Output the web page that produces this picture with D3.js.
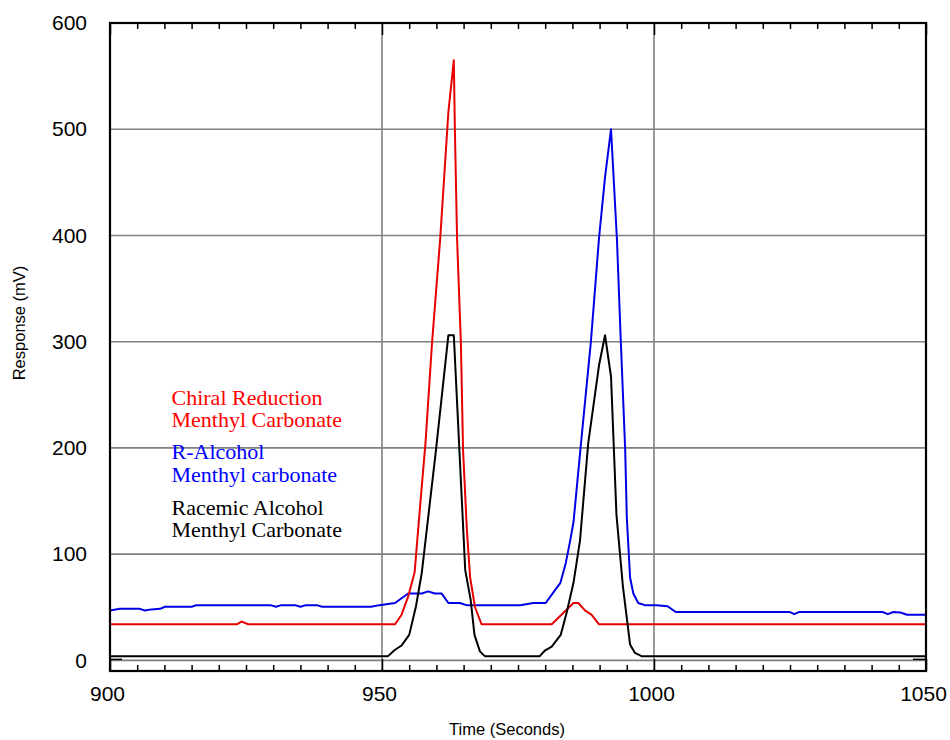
<!DOCTYPE html>
<html>
<head>
<meta charset="utf-8">
<script src="https://cdn.jsdelivr.net/npm/d3@7"></script>
<style>
  html, body { margin: 0; padding: 0; background: #fff; }
  svg { display: block; }
</style>
</head>
<body>
<svg id="chart" width="950" height="740"></svg>
<script>
// ---------- data (time in seconds, response in mV) ----------
const xMajorTicks = [900, 950, 1000, 1050];
const yMajorTicks = [0, 100, 200, 300, 400, 500, 600];

const chiralReduction = [
  [900,34],[923.3,34],[924.2,36.5],[925.4,34],[952.4,34],[953.6,43],[954.8,60],
  [956.0,83],[957.0,145],[958.0,205],[959.2,299],[960.7,397],[962.2,516],[963.2,565],
  [963.4,499],[963.8,397],[964.5,299],[964.9,198],[965.6,123],[966.2,78],[967.1,50],
  [968.3,34],[981.2,34],[985.2,54],[986.1,54],[987.3,47],[988.5,43],[989.9,34],[1050,34]
];

const rAlcohol = [
  [900,47],[901.8,48.5],[905.5,48.5],[906.4,47],[907.6,48],[909.2,48.5],[910.1,50.5],
  [915,50.5],[915.9,52],[929.5,52],[930.5,50.5],[931.5,52],[934,52],[935,50.5],[936,52],
  [938,52],[939,50.5],[948,50.5],[949.5,52],[952.4,54],[954.8,63],[957.3,63],[958.5,65],
  [959.7,63],[960.95,63],[962.2,54],[964.3,54],[965.5,52],[975.4,52],[977.8,54],[980.1,54],
  [981.5,64],[982.8,73],[983.8,92],[984.6,113],[985.2,130],[986.5,200],[988.4,300],
  [989.9,398],[991.0,455],[992.1,500],[993.2,395],[993.9,300],[994.7,199],[995.0,135],
  [995.6,78],[996.2,63],[997.1,54],[998.3,52],[1000.5,52],[1002.5,51],[1004,45.5],
  [1025,45.5],[1025.8,43.5],[1026.6,45.5],[1042,45.5],[1043,43.5],[1044,45.5],
  [1045.3,45],[1046.5,43],[1050,43]
];

const racemicAlcohol = [
  [900,4],[951.1,4],[952.4,10],[953.6,14],[955.0,24],[956.25,51],[957.3,82],[959.9,197],
  [962.2,306],[963.2,306],[965.3,85],[966.3,57],[967.0,24],[968.0,8.5],[968.9,4],
  [979.0,4],[980.0,9.5],[981.2,13],[982.85,24],[983.95,45],[985.2,73],[986.4,113],
  [987.9,204],[989.9,278],[991.0,306],[992.1,267],[993.1,137],[994.3,69],[995.6,15],
  [996.5,7],[997.7,4],[1050,4]
];

const legendLines = [
  {text: "Chiral Reduction", color: "#ff0000"},
  {text: "Menthyl Carbonate", color: "#ff0000"},
  {text: "R-Alcohol", color: "#0000ff"},
  {text: "Menthyl carbonate", color: "#0000ff"},
  {text: "Racemic Alcohol", color: "#000000"},
  {text: "Menthyl Carbonate", color: "#000000"}
];

// ---------- layout ----------
const L = 110, R = 926, T = 23, B = 671;
const svg = d3.select("#chart");
svg.append("rect").attr("width", 950).attr("height", 740).attr("fill", "#fff");

const x = d3.scaleLinear().domain([900, 1050]).range([L, R]);
const y = d3.scaleLinear().domain([-10, 600]).range([B, T]);

const sans = "'Liberation Sans', Arial, Helvetica, sans-serif";
const serif = "'Liberation Serif', 'Times New Roman', Times, serif";

// ---------- gridlines ----------
const grid = svg.append("g").attr("stroke", "#808080").attr("stroke-width", 1.6);
grid.selectAll("line.h").data(yMajorTicks.filter(d => d < 600)).enter().append("line")
  .attr("x1", L).attr("x2", R).attr("y1", d => y(d)).attr("y2", d => y(d));
grid.selectAll("line.v").data(xMajorTicks.filter(d => d > 900 && d < 1050)).enter().append("line")
  .attr("y1", T).attr("y2", B).attr("x1", d => x(d)).attr("x2", d => x(d));

// ---------- curves ----------
svg.append("clipPath").attr("id", "clip").append("rect")
  .attr("x", L).attr("y", T).attr("width", R - L).attr("height", B - T);
const line = d3.line().x(d => x(d[0])).y(d => y(d[1]));
const curves = svg.append("g").attr("clip-path", "url(#clip)")
  .attr("fill", "none").attr("stroke-width", 2).attr("stroke-linejoin", "round");
curves.append("path").datum(rAlcohol).attr("d", line).attr("stroke", "#0000e6");
curves.append("path").datum(chiralReduction).attr("d", line).attr("stroke", "#e60000");
curves.append("path").datum(racemicAlcohol).attr("d", line).attr("stroke", "#000");

// ---------- axes ----------
const minorX = d3.range(905, 1050, 5).filter(d => d % 50 !== 0);

function styleAxis(g) {
  g.select(".domain").remove();
  g.selectAll(".tick line").attr("stroke", "#000").attr("stroke-width", 1.5);
  g.selectAll(".tick text").attr("fill", "#000").style("font-family", sans).style("font-size", "21px");
}

// bottom major with labels
svg.append("g").attr("transform", `translate(0,${B})`)
  .call(d3.axisBottom(x).tickValues(xMajorTicks).tickSizeInner(-12).tickSizeOuter(0)
    .tickPadding(15).tickFormat(d3.format("d")))
  .call(styleAxis)
  .call(g => g.selectAll(".tick text").attr("dx", "-3"));
// bottom minor
svg.append("g").attr("transform", `translate(0,${B})`)
  .call(d3.axisBottom(x).tickValues(minorX).tickSizeInner(-6).tickSizeOuter(0).tickFormat(""))
  .call(styleAxis);
// top major + minor
svg.append("g").attr("transform", `translate(0,${T})`)
  .call(d3.axisTop(x).tickValues(xMajorTicks).tickSizeInner(-12).tickSizeOuter(0).tickFormat(""))
  .call(styleAxis);
svg.append("g").attr("transform", `translate(0,${T})`)
  .call(d3.axisTop(x).tickValues(minorX).tickSizeInner(-6).tickSizeOuter(0).tickFormat(""))
  .call(styleAxis);

// left labels
svg.append("g").attr("transform", `translate(${L},0)`)
  .call(d3.axisLeft(y).tickValues(yMajorTicks).tickSize(0).tickPadding(23).tickFormat(d3.format("d")))
  .call(styleAxis);

// small black ticks at zero, both sides
svg.append("g").attr("stroke", "#000").attr("stroke-width", 1.5)
  .selectAll("line").data([[L, L + 12], [R - 13, R]]).enter().append("line")
  .attr("x1", d => d[0]).attr("x2", d => d[1])
  .attr("y1", y(0) - 1).attr("y2", y(0) - 1);

// frame
svg.append("rect").attr("x", L).attr("y", T).attr("width", R - L).attr("height", B - T)
  .attr("fill", "none").attr("stroke", "#000").attr("stroke-width", 2.2);

// axis titles
svg.append("text").attr("x", 507).attr("y", 735).attr("text-anchor", "middle")
  .style("font-family", sans).style("font-size", "16.5px").text("Time (Seconds)");
svg.append("text").attr("transform", "translate(25,323) rotate(-90)").attr("text-anchor", "middle")
  .style("font-family", sans).style("font-size", "16.5px").text("Response (mV)");

// legend
const legendBaselines = [405, 427, 458.5, 481.5, 515, 537];
svg.append("g").selectAll("text").data(legendLines).enter().append("text")
  .attr("x", 171.5).attr("y", (d, i) => legendBaselines[i])
  .attr("fill", d => d.color)
  .style("font-family", serif).style("font-size", "22px")
  .text(d => d.text);
</script>
</body>
</html>
